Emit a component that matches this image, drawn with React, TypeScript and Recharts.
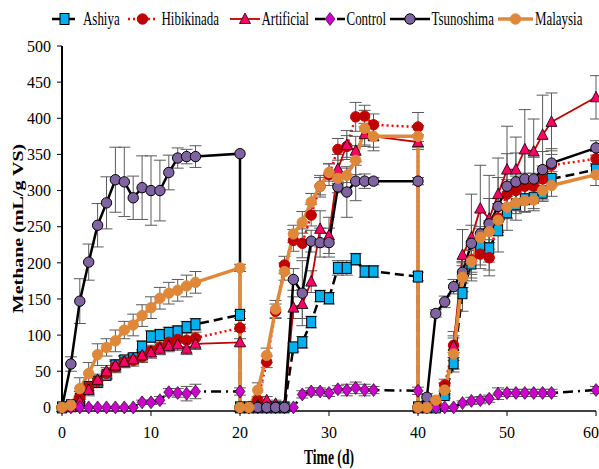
import { LineChart, Line, XAxis, YAxis, ErrorBar, Label } from 'recharts'

const FONT = "'Liberation Serif', 'Times New Roman', serif"

// three feeding cycles; the repeated day 20 / 40 rows are the drop back to zero
const DAYS = [
  0, 1, 2, 3, 4, 5, 6, 7, 8, 9, 10, 11, 12, 13, 14, 15, 20,
  20, 21, 22, 23, 24, 25, 26, 27, 28, 29, 30, 31, 32, 33, 34, 35, 40,
  40, 41, 42, 43, 44, 45, 46, 47, 48, 49, 50, 51, 52, 53, 54, 55, 60,
]

const ASHIYA = [
  0, 3, 12, 28, 35, 45, 58, 65, 68, 84, 98, 100, 103, 105, 111, 115, 128,
  0, 0, 0, 0, 0, 0, 83, 90, 118, 154, 151, 193, 193, 205, 188, 188, 181,
  0, 0, 0, 17, 61, 158, 199, 222, 220, 245, 270, 281, 288, 290, 297, 316, 329,
]
const ASHIYA_ERR = [
  0, 2, 4, 5, 5, 5, 6, 6, 6, 8, 8, 8, 8, 8, 8, 8, 5,
  0, 0, 0, 0, 0, 0, 6, 8, 8, 8, 8, 10, 10, 8, 8, 8, 6,
  0, 0, 0, 5, 8, 25, 20, 25, 30, 30, 25, 22, 18, 15, 10, 10, 8,
]

const HIBIKINADA = [
  0, 2, 14, 28, 36, 47, 56, 63, 65, 70, 78, 83, 90, 94, 93, 96, 110,
  0, 0, 10, 63, 133, 197, 231, 227, 266, 306, 322, 357, 361, 402, 403, 391, 388,
  0, 0, 3, 31, 86, 181, 204, 212, 207, 262, 295, 300, 306, 306, 316, 335, 344,
]
const HIBIKINADA_ERR = [
  0, 5, 8, 8, 8, 8, 8, 8, 8, 8, 8, 10, 10, 10, 10, 8, 5,
  0, 0, 5, 8, 10, 12, 15, 20, 15, 15, 15, 15, 15, 20, 15, 15, 20,
  0, 0, 3, 8, 10, 15, 20, 20, 25, 20, 20, 20, 18, 18, 18, 15, 10,
]

const ARTIFICIAL = [
  0, 0, 8, 24, 38, 50, 58, 63, 67, 72, 76, 81, 85, 87, 81, 88, 90,
  0, 0, 3, 10, 5, 3, 138, 143, 174, 247, 238, 330, 363, 355, 378, 375, 367,
  0, 0, 4, 25, 85, 211, 235, 275, 261, 295, 329, 329, 357, 354, 377, 395, 429,
]
const ARTIFICIAL_ERR = [
  0, 0, 5, 8, 8, 8, 8, 8, 8, 8, 8, 8, 8, 8, 8, 8, 5,
  0, 0, 8, 5, 5, 3, 15, 20, 15, 25, 25, 20, 20, 20, 15, 15, 10,
  0, 0, 3, 8, 20, 35, 60, 60, 60, 50, 60, 45, 55, 45, 55, 40, 30,
]

const CONTROL = [
  0, 0, 0, 0, 0, 0, 0, 0, 0, 7, 7, 10, 21, 20, 19, 22, 22,
  0, 0, 0, 0, 0, 0, 0, 18, 22, 22, 20, 25, 24, 27, 24, 24, 23,
  0, 0, 0, 0, 0, 6, 9, 10, 12, 19, 20, 20, 20, 20, 20, 20, 24,
]
const CONTROL_ERR = [
  0, 0, 0, 0, 0, 0, 0, 0, 0, 3, 3, 5, 5, 6, 10, 10, 5,
  0, 0, 0, 0, 0, 0, 0, 5, 5, 5, 5, 5, 8, 8, 8, 5, 5,
  0, 0, 0, 0, 0, 3, 5, 5, 5, 8, 5, 5, 5, 5, 5, 5, 5,
]

const TSUNOSHIMA = [
  0, 60, 147, 201, 252, 283, 315, 312, 290, 304, 300, 300, 325, 345, 347, 347, 351,
  0, 0, 0, 0, 0, 0, 177, 158, 230, 228, 228, 305, 298, 313, 313, 313, 313,
  0, 14, 130, 146, 167, 187, 227, 240, 254, 278, 306, 312, 316, 316, 329, 338, 359,
]
const TSUNOSHIMA_ERR = [
  0, 10, 31, 25, 30, 36, 45, 48, 30, 44, 48, 42, 24, 14, 10, 15, 0,
  0, 0, 0, 0, 0, 0, 15, 45, 15, 20, 20, 8, 35, 27, 10, 5, 5,
  0, 5, 5, 8, 10, 15, 25, 30, 35, 40, 45, 40, 35, 30, 25, 20, 10,
]

const MALAYSIA = [
  0, 3, 26, 47, 73, 83, 92, 107, 114, 127, 138, 151, 158, 162, 168, 173, 193,
  0, 0, 24, 72, 136, 188, 240, 256, 284, 306, 325, 317, 321, 342, 386, 375, 375,
  0, 0, 10, 24, 74, 180, 202, 235, 243, 259, 277, 283, 286, 287, 300, 307, 322,
]
const MALAYSIA_ERR = [
  0, 5, 15, 15, 15, 12, 15, 12, 15, 15, 15, 15, 15, 15, 15, 15, 5,
  0, 0, 10, 10, 12, 12, 12, 15, 12, 12, 12, 8, 10, 20, 25, 20, 15,
  0, 0, 5, 10, 25, 20, 15, 15, 15, 15, 15, 15, 15, 15, 15, 15, 15,
]

const X_TICKS = [0, 10, 20, 30, 40, 50, 60]
const Y_TICKS = [0, 50, 100, 150, 200, 250, 300, 350, 400, 450, 500]

const data = DAYS.map((day, i) => ({
  day,
  ashiya: ASHIYA[i], ashiyaErr: ASHIYA_ERR[i],
  hibikinada: HIBIKINADA[i], hibikinadaErr: HIBIKINADA_ERR[i],
  artificial: ARTIFICIAL[i], artificialErr: ARTIFICIAL_ERR[i],
  control: CONTROL[i], controlErr: CONTROL_ERR[i],
  tsunoshima: TSUNOSHIMA[i], tsunoshimaErr: TSUNOSHIMA_ERR[i],
  malaysia: MALAYSIA[i], malaysiaErr: MALAYSIA_ERR[i],
}))

type Shape = 'square' | 'circle' | 'triangle' | 'diamond'

const SERIES: {
  key: string; name: string; shape: Shape; line: string; width: number; dash?: string
  fill: string; edge: string
}[] = [
  { key: 'ashiya', name: 'Ashiya', shape: 'square', line: '#000', width: 2.5, dash: '9 5', fill: '#00B0F0', edge: '#000' },
  { key: 'hibikinada', name: 'Hibikinada', shape: 'circle', line: '#FF0000', width: 2.5, dash: '2 3', fill: '#C00000', edge: '#C00000' },
  { key: 'artificial', name: 'Artificial', shape: 'triangle', line: '#C00000', width: 1.8, fill: '#FF0066', edge: '#000' },
  { key: 'control', name: 'Control', shape: 'diamond', line: '#000', width: 2.5, dash: '10 5 2 5', fill: '#CC00CC', edge: '#000' },
  { key: 'tsunoshima', name: 'Tsunoshima', shape: 'circle', line: '#000', width: 2.5, fill: '#8064A2', edge: '#000' },
  { key: 'malaysia', name: 'Malaysia', shape: 'circle', line: '#E0883A', width: 3.5, fill: '#E0883A', edge: '#E0883A' },
]

// legend layout: icon start, icon width, text start
const LEGEND_POS = [
  [52, 25, 83],
  [128, 29, 161.5],
  [230, 30, 261.5],
  [315, 30, 346.5],
  [390, 40, 431.5],
  [498, 35, 535],
]

function Marker({ shape, cx, cy, fill, edge }: { shape: Shape; cx: number; cy: number; fill: string; edge: string }) {
  if (shape === 'square') return <rect x={cx - 4.5} y={cy - 5.5} width={9} height={11} fill={fill} stroke={edge} strokeWidth={1} />
  if (shape === 'triangle') return <polygon points={`${cx},${cy - 6} ${cx + 5.5},${cy + 4.5} ${cx - 5.5},${cy + 4.5}`} fill={fill} stroke={edge} strokeWidth={0.8} />
  if (shape === 'diamond') return <polygon points={`${cx},${cy - 6.5} ${cx + 5},${cy} ${cx},${cy + 6.5} ${cx - 5},${cy}`} fill={fill} stroke={edge} strokeWidth={0.6} />
  return <circle cx={cx} cy={cy} r={5.2} fill={fill} stroke={edge} strokeWidth={1} />
}

function Legend() {
  return (
    <svg width={599} height={34} style={{ position: 'absolute', left: 0, top: 0 }}>
      {SERIES.map((s, i) => {
        const [ix, iw, tx] = LEGEND_POS[i]
        const cy = 19
        return (
          <g key={s.key}>
            <line x1={ix} x2={ix + iw} y1={cy} y2={cy} stroke={s.line} strokeWidth={s.width} strokeDasharray={s.dash} />
            <Marker shape={s.shape} cx={ix + iw / 2} cy={cy} fill={s.fill} edge={s.edge} />
            <text transform={`translate(${tx},24.5) scale(0.72,1)`} fontSize={18} fontFamily={FONT}>{s.name}</text>
          </g>
        )
      })}
    </svg>
  )
}

const tickStyle = { fontSize: 16, fontFamily: FONT, fill: '#000' }

export default function App() {
  return (
    <div style={{ position: 'absolute', left: 0, top: 0, width: 599, height: 469, background: '#fff' }}>
      <LineChart width={599} height={469} data={data} margin={{ top: 46, right: 3, left: 0, bottom: 0 }}>
        <XAxis
          type="number" dataKey="day" domain={[0, 60]} ticks={X_TICKS} height={58}
          tick={tickStyle} tickSize={5} tickMargin={11}
          axisLine={{ stroke: '#000', strokeWidth: 1.5 }} tickLine={{ stroke: '#000' }}
        >
          <Label content={(p: any) => {
            const v = p.viewBox
            return (
              <text transform={`translate(${v.x + v.width / 2},${v.y + v.height - 5}) scale(0.68,1)`} textAnchor="middle"
                fontSize={20} fontWeight="bold" fontFamily={FONT}>Time (d)</text>
            )
          }} />
        </XAxis>
        <YAxis
          type="number" domain={[0, 500]} ticks={Y_TICKS} width={62}
          tick={tickStyle} tickSize={5} tickMargin={6}
          axisLine={{ stroke: '#000', strokeWidth: 2 }} tickLine={{ stroke: '#000' }}
        >
          <Label content={(p: any) => {
            const v = p.viewBox
            const cy = v.y + v.height / 2
            return (
              <text transform={`translate(18,${cy}) scale(0.72,1) rotate(-90)`} textAnchor="middle" dy="0.35em"
                fontSize={20} fontWeight="bold" fontFamily={FONT}>Methane (mL/g VS)</text>
            )
          }} />
        </YAxis>
        {SERIES.map(s => (
          <Line
            key={s.key} dataKey={s.key} type="linear" stroke={s.line} strokeWidth={s.width}
            strokeDasharray={s.dash} isAnimationActive={false} activeDot={false}
            dot={(p: any) => (p.cx == null || p.cy == null)
              ? <g key={`${s.key}-${p.index}`} />
              : <Marker key={`${s.key}-${p.index}`} shape={s.shape} cx={p.cx} cy={p.cy} fill={s.fill} edge={s.edge} />}
          >
            <ErrorBar dataKey={`${s.key}Err`} width={6} stroke="#5a5a5a" strokeWidth={1} direction="y" />
          </Line>
        ))}
      </LineChart>
      <Legend />
    </div>
  )
}
